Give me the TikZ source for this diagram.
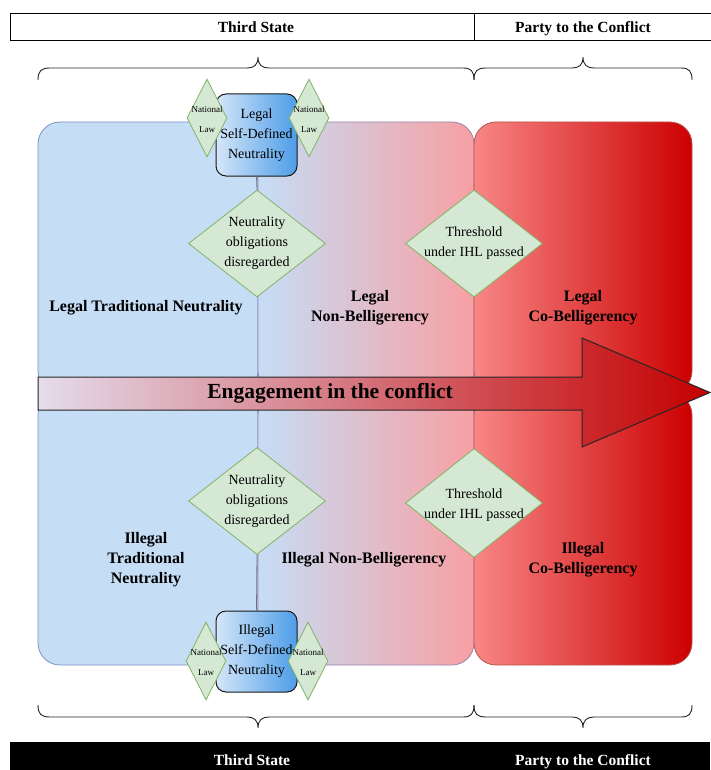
\documentclass[tikz,border=0pt]{standalone}
\usepackage{fontspec}
\setmainfont{Liberation Serif}
\usetikzlibrary{shapes.geometric}

\definecolor{cellblue}{HTML}{C6DDF6}
\definecolor{cellpink}{HTML}{F7A0A3}
\definecolor{redlight}{HTML}{F88686}
\definecolor{reddeep}{HTML}{CC0000}
\definecolor{bluestroke}{HTML}{7F93C4}
\definecolor{purplestroke}{HTML}{9A84B0}
\definecolor{redstroke}{HTML}{B85450}
\definecolor{decfill}{HTML}{D5E8D4}
\definecolor{decstroke}{HTML}{82B366}
\definecolor{selflight}{HTML}{D4E6F9}
\definecolor{selfdark}{HTML}{4D9DE8}
\definecolor{arrowlight}{HTML}{E4DCEC}
\definecolor{arrowdark}{HTML}{C40000}

\begin{document}
\begin{tikzpicture}[x=1pt,y=-1pt,
  cell/.style={rounded corners=22pt, line width=0.8pt, inner sep=0pt},
  decision/.style={diamond, draw=decstroke, fill=decfill, line width=0.8pt, inner sep=0pt},
  dectext/.style={align=center, font=\fontsize{14}{20}\selectfont, inner sep=0pt},
  lawtext/.style={align=center, font=\fontsize{9}{20}\selectfont, inner sep=0pt},
  selfbox/.style={draw=black!90, line width=1pt, rounded corners=10pt, left color=selflight, right color=selfdark, inner sep=0pt, align=center, font=\fontsize{14}{20}\selectfont},
  label/.style={align=center, font=\bfseries\fontsize{16}{20}\selectfont, inner sep=0pt},
  headtext/.style={font=\bfseries\fontsize{15.5}{18}\selectfont, inner sep=0pt, anchor=base},
  bracepath/.style={draw=black!85, line width=0.9pt},
  link/.style={draw=black!55, line width=0.8pt}
]
\useasboundingbox (0,0) rectangle (710,770);

% top header
\node[draw, line width=1pt, minimum width=702pt, minimum height=27pt, inner sep=0pt, anchor=north west] (hdr) at (10,13) {};
\draw[line width=0.8pt] (474,13) -- (474,40);
\node[headtext] (hdr3) at (256,32.5) {Third State};
\node[headtext] (hdrp) at (583,32.5) {Party to the Conflict};

% top braces
\draw[bracepath] (38,80) .. controls (38,71) and (41,68) .. (50,68) -- (247,68)
  .. controls (254,68) and (258,65) .. (258,57) .. controls (258,65) and (262,68) .. (269,68)
  -- (463,68) .. controls (471,68) and (474,71) .. (474,80);
\draw[bracepath] (474,80) .. controls (474,71) and (477,68) .. (486,68) -- (572,68)
  .. controls (579,68) and (583,65) .. (583,57) .. controls (583,65) and (587,68) .. (594,68)
  -- (681,68) .. controls (689,68) and (692,71) .. (692,80);

% upper row of cells
\node[cell, draw=bluestroke, fill=cellblue, minimum width=220pt, minimum height=271pt] (ltn) at (148,257.5) {};
\node[cell, draw=purplestroke, left color=cellblue, right color=cellpink, minimum width=216pt, minimum height=271pt] (lnb) at (366,257.5) {};
\node[cell, draw=redstroke, left color=redlight, right color=reddeep, minimum width=218pt, minimum height=271pt] (lcb) at (583,257.5) {};

% lower row of cells
\node[cell, draw=bluestroke, fill=cellblue, minimum width=220pt, minimum height=272pt] (itn) at (148,529) {};
\node[cell, draw=purplestroke, left color=cellblue, right color=cellpink, minimum width=216pt, minimum height=272pt] (inb) at (366,529) {};
\node[cell, draw=redstroke, left color=redlight, right color=reddeep, minimum width=218pt, minimum height=272pt] (icb) at (583,529) {};

% decisions
\node[decision, minimum width=137pt, minimum height=107pt] (nod1) at (257,243.5) {};
\node[decision, minimum width=137pt, minimum height=107pt] (thr1) at (474,243.5) {};
\node[decision, minimum width=137pt, minimum height=107pt] (nod2) at (257,501) {};
\node[decision, minimum width=137pt, minimum height=109pt] (thr2) at (474,503) {};

% self-defined neutrality boxes
\node[selfbox, minimum width=81pt, minimum height=82pt] (lsd) at (256.5,135) {Legal\\Self-Defined\\Neutrality};
\node[selfbox, minimum width=81pt, minimum height=81pt] (isd) at (256.5,651.5) {Illegal\\Self-Defined\\Neutrality};

\draw[link] (lsd.south) -- (nod1.north);
\draw[link] (nod2.south) -- (isd.north);

% national law diamonds
\node[decision, minimum width=40pt, minimum height=78pt] (nl1) at (207,118) {};
\node[decision, minimum width=40pt, minimum height=78pt] (nl2) at (309,118) {};
\node[decision, minimum width=40pt, minimum height=78pt] (nl3) at (206,661) {};
\node[decision, minimum width=40pt, minimum height=78pt] (nl4) at (308,661) {};
\foreach \n in {nl1,nl2,nl3,nl4}
  \node[lawtext] at ([yshift=-1pt]\n.center) {National\\Law};

% decision texts
\node[dectext] (t1) at (nod1.center) {Neutrality\\obligations\\disregarded};
\node[dectext] (t2) at (thr1.center) {Threshold\\under IHL passed};
\node[dectext] (t3) at (nod2.center) {Neutrality\\obligations\\disregarded};
\node[dectext] (t4) at ([yshift=-2pt]thr2.center) {Threshold\\under IHL passed};

% engagement arrow
\draw[line width=1pt, draw=black!85, left color=arrowlight, right color=arrowdark]
  (38,377) -- (582,377) -- (582,338) -- (710,392.5) -- (582,447) -- (582,410) -- (38,410) -- cycle;
\node[font=\bfseries\fontsize{21.5}{24}\selectfont, inner sep=0pt] (eng) at (330,393) {Engagement in the conflict};

% state labels
\node[label] (l1) at (146,308) {Legal Traditional Neutrality};
\node[label] (l2) at (370,308) {Legal\\Non-Belligerency};
\node[label] (l3) at (583,308) {Legal\\Co-Belligerency};
\node[label] (l4) at (146,560) {Illegal\\Traditional\\Neutrality};
\node[label] (l5) at (364,560) {Illegal Non-Belligerency};
\node[label] (l6) at (583,560) {Illegal\\Co-Belligerency};

% bottom braces
\draw[bracepath] (38,705) .. controls (38,714) and (41,717) .. (50,717) -- (247,717)
  .. controls (254,717) and (258,720) .. (258,728) .. controls (258,720) and (262,717) .. (269,717)
  -- (463,717) .. controls (471,717) and (474,714) .. (474,705);
\draw[bracepath] (474,705) .. controls (474,714) and (477,717) .. (486,717) -- (572,717)
  .. controls (579,717) and (583,720) .. (583,728) .. controls (583,720) and (587,717) .. (594,717)
  -- (681,717) .. controls (689,717) and (692,714) .. (692,705);

% bottom header
\node[fill=black, minimum width=700pt, minimum height=28pt, inner sep=0pt, anchor=north west] (ftr) at (10,742) {};
\node[headtext, text=white] (ftr3) at (252,765.5) {Third State};
\node[headtext, text=white] (ftrp) at (583,765.5) {Party to the Conflict};
\end{tikzpicture}
\end{document}
